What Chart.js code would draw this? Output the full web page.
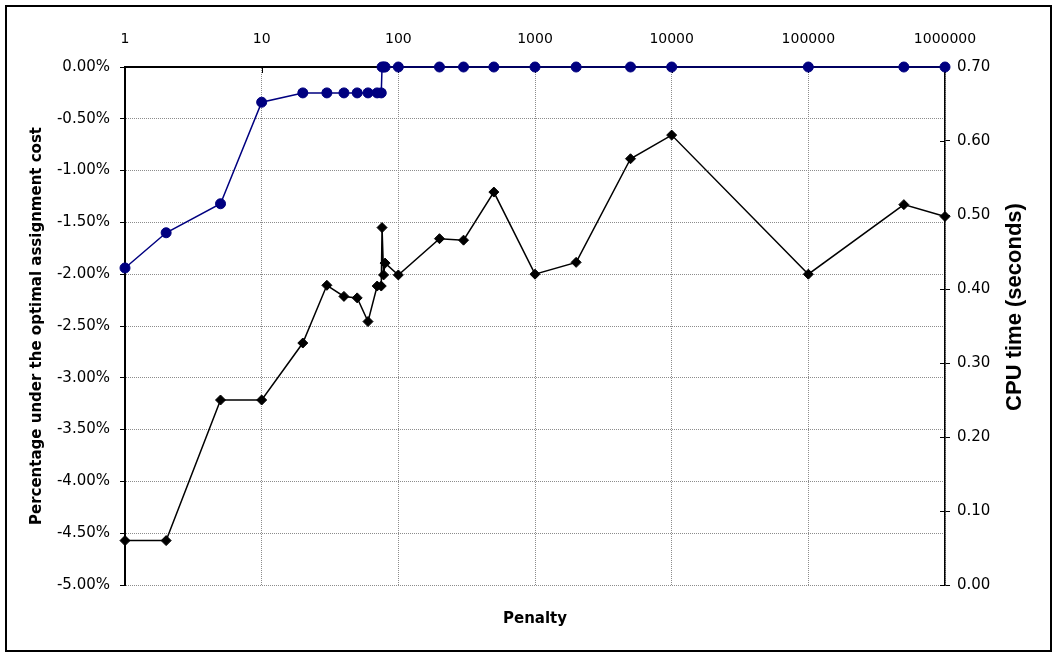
<!DOCTYPE html>
<html>
<head>
<meta charset="utf-8">
<script src="https://cdn.jsdelivr.net/npm/chart.js@4/dist/chart.umd.min.js"></script>
<style>
  html, body { margin: 0; padding: 0; background: #fff; }
  canvas { display: block; }
</style>
</head>
<body>
<canvas id="chart" width="1053" height="657"></canvas>
<script>
// Penalty values tried (log scale)
const penalties = [1, 2, 5, 10, 20, 30, 40, 50, 60, 70, 75, 76, 78, 80, 100, 200, 300, 500, 1000, 2000, 5000, 10000, 100000, 500000, 1000000];
// Percentage under the optimal assignment cost (left axis, %)
const pctBelowOptimal = [-1.94, -1.60, -1.32, -0.34, -0.25, -0.25, -0.25, -0.25, -0.25, -0.25, -0.25, 0, 0, 0, 0, 0, 0, 0, 0, 0, 0, 0, 0, 0, 0];
// CPU time in seconds (right axis)
const cpuSeconds = [0.06, 0.06, 0.25, 0.25, 0.327, 0.405, 0.39, 0.388, 0.356, 0.404, 0.404, 0.483, 0.419, 0.435, 0.419, 0.468, 0.466, 0.531, 0.42, 0.436, 0.576, 0.608, 0.42, 0.514, 0.498];
// Decade ticks on the penalty axis
const penaltyTicks = [1, 10, 100, 1000, 10000, 100000, 1000000];

const xTickFont = { family: 'DejaVu Sans', size: 14 };
const yTickFont = { family: 'DejaVu Sans', size: 15 };
const titleFont = { family: 'DejaVu Sans', size: 15, weight: 'bold' };
const gridGray = '#8c8c8c';

// White page with a thin black frame round the whole chart
const framePlugin = {
  id: 'frame',
  beforeDraw(chart) {
    const ctx = chart.ctx;
    ctx.save();
    ctx.fillStyle = '#fff';
    ctx.fillRect(0, 0, chart.width, chart.height);
    ctx.strokeStyle = '#000';
    ctx.lineWidth = 2;
    ctx.strokeRect(6, 6, 1045, 645);
    ctx.restore();
  }
};

// Tick marks that point into the plot: downward on the top penalty axis,
// leftward on the CPU axis (completing the crossing ticks)
const innerTicksPlugin = {
  id: 'innerTicks',
  beforeDatasetsDraw(chart) {
    const { ctx, chartArea: area } = chart;
    const xs = chart.scales.x;
    const yr = chart.scales.y1;
    ctx.save();
    ctx.strokeStyle = '#000';
    ctx.lineWidth = 1;
    ctx.beginPath();
    xs.ticks.forEach(t => {
      const px = Math.round(xs.getPixelForValue(t.value)) + 0.5;
      ctx.moveTo(px, area.top);
      ctx.lineTo(px, area.top + 6);
    });
    yr.ticks.forEach(t => {
      const py = Math.round(yr.getPixelForValue(t.value)) + 0.5;
      ctx.moveTo(area.right - 5, py);
      ctx.lineTo(area.right, py);
    });
    ctx.stroke();
    ctx.restore();
  }
};

// Right-hand axis title, reading bottom to top
const cpuTitlePlugin = {
  id: 'cpuTitle',
  afterDraw(chart) {
    const ctx = chart.ctx;
    ctx.save();
    ctx.translate(1015, 307);
    ctx.rotate(-Math.PI / 2);
    ctx.font = 'bold 22px "Liberation Sans", Arial, sans-serif';
    ctx.fillStyle = '#000';
    ctx.textAlign = 'center';
    ctx.textBaseline = 'middle';
    ctx.fillText('CPU time (seconds)', 0, 0);
    ctx.restore();
  }
};

new Chart(document.getElementById('chart'), {
  type: 'line',
  data: {
    datasets: [
      {
        label: 'Percentage under the optimal assignment cost',
        data: penalties.map((p, i) => ({ x: p, y: pctBelowOptimal[i] })),
        xAxisID: 'x',
        yAxisID: 'y',
        borderColor: '#000080',
        backgroundColor: '#000080',
        borderWidth: 1.5,
        pointStyle: 'circle',
        pointRadius: 5,
        pointHoverRadius: 5,
        pointBorderWidth: 1,
        tension: 0,
        clip: false
      },
      {
        label: 'CPU time (seconds)',
        data: penalties.map((p, i) => ({ x: p, y: cpuSeconds[i] })),
        xAxisID: 'x',
        yAxisID: 'y1',
        borderColor: '#000',
        backgroundColor: '#000',
        borderWidth: 1.5,
        pointStyle: 'rectRot',
        pointRadius: 5,
        pointHoverRadius: 5,
        pointBorderWidth: 1,
        tension: 0,
        clip: false
      }
    ]
  },
  options: {
    responsive: false,
    animation: false,
    devicePixelRatio: 1,
    events: [],
    layout: { padding: 0 },
    plugins: {
      legend: { display: false },
      tooltip: { enabled: false }
    },
    scales: {
      x: {
        type: 'logarithmic',
        position: 'top',
        min: 1,
        max: 1000000,
        afterBuildTicks: s => { s.ticks = penaltyTicks.map(v => ({ value: v })); },
        afterFit: s => { s.height = 67; },
        ticks: {
          font: xTickFont,
          color: '#000',
          padding: 19,
          maxRotation: 0,
          autoSkip: false,
          callback: v => String(v)
        },
        grid: { color: gridGray, lineWidth: 1, drawTicks: false },
        border: { display: true, color: '#000', width: 2, dash: [1, 1] }
      },
      xTitle: {
        type: 'linear',
        position: 'bottom',
        min: 0,
        max: 1,
        ticks: { display: false },
        grid: { display: false },
        border: { display: false },
        title: {
          display: true,
          text: 'Penalty',
          font: titleFont,
          color: '#000',
          padding: { top: 0, bottom: 29 }
        },
        afterFit: s => { s.height = 72; }
      },
      y: {
        type: 'linear',
        position: 'left',
        min: -5,
        max: 0,
        ticks: {
          stepSize: 0.5,
          font: yTickFont,
          color: '#000',
          padding: 10,
          callback: v => v.toFixed(2) + '%'
        },
        grid: {
          color: gridGray,
          lineWidth: 1,
          tickColor: '#000',
          tickLength: 5,
          tickWidth: 1,
          tickBorderDash: []
        },
        border: { color: '#000', width: 2, dash: [1, 1] },
        title: {
          display: true,
          text: 'Percentage under the optimal assignment cost',
          font: titleFont,
          color: '#000',
          padding: { top: 28, bottom: 0 }
        },
        afterFit: s => { s.width = 125; }
      },
      y1: {
        type: 'linear',
        position: 'right',
        min: 0,
        max: 0.7,
        ticks: {
          stepSize: 0.1,
          font: yTickFont,
          color: '#000',
          padding: 7,
          callback: v => v.toFixed(2)
        },
        grid: {
          drawOnChartArea: false,
          tickColor: '#000',
          tickLength: 5,
          tickWidth: 1
        },
        border: { color: '#000', width: 1.5 },
        afterFit: s => { s.width = 108; }
      }
    }
  },
  plugins: [framePlugin, innerTicksPlugin, cpuTitlePlugin]
});
</script>
</body>
</html>
